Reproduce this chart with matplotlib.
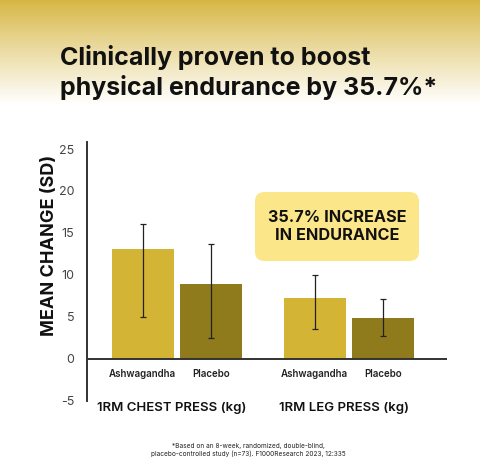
import numpy as np
import matplotlib
matplotlib.use("Agg")
import matplotlib.pyplot as plt
from matplotlib.colors import LinearSegmentedColormap
from matplotlib.patches import FancyBboxPatch

# --- Data ---
groups = ["1RM CHEST PRESS (kg)", "1RM LEG PRESS (kg)"]
series = ["Ashwagandha", "Placebo"]
ashwagandha_mean = [13.1, 7.2]
placebo_mean = [8.9, 4.8]
# error bar ends (low, high)
ashwagandha_low = [5.0, 3.6]
ashwagandha_high = [16.1, 10.0]
placebo_low = [2.5, 2.7]
placebo_high = [13.7, 7.1]
y_ticks = [-5, 0, 5, 10, 15, 20, 25]

# --- Style ---
ASH_COLOR = "#d4b434"
PLA_COLOR = "#8f7a1c"
BOX_COLOR = "#fce68a"
TOP_COLOR = "#d6b53f"
FONT = ["Inter", "DejaVu Sans"]

plt.rcParams["font.family"] = FONT

fig = plt.figure(figsize=(4.80, 4.61), dpi=100)

# background gradient at the top
bg = fig.add_axes([0, 0, 1, 1], zorder=-10)
grad = np.ones((461, 2))
ramp = np.linspace(0, 1, 106)
grad[:106, :] = (ramp ** 0.9)[:, None]
cmap = LinearSegmentedColormap.from_list("bg", [TOP_COLOR, "#ffffff"])
bg.imshow(grad, aspect="auto", cmap=cmap, vmin=0, vmax=1, extent=[0, 1, 0, 1])
bg.axis("off")

# title
fig.text(0.125, 1 - 58 / 461, "Clinically proven to boost", fontsize=18,
         fontweight="bold", va="center", ha="left", color="#111111")
fig.text(0.125, 1 - 88 / 461, "physical endurance by 35.7%*", fontsize=18,
         fontweight="bold", va="center", ha="left", color="#111111")

ax = fig.add_axes([87 / 480, 0.131, (447 - 87) / 480, 0.562])
ax.patch.set_alpha(0)

x = np.arange(len(groups))
w = 0.36
off = 0.2

ash_err = [np.subtract(ashwagandha_mean, ashwagandha_low),
           np.subtract(ashwagandha_high, ashwagandha_mean)]
pla_err = [np.subtract(placebo_mean, placebo_low),
           np.subtract(placebo_high, placebo_mean)]

ax.bar(x - off, ashwagandha_mean, width=w, color=ASH_COLOR, zorder=2)
ax.bar(x + off, placebo_mean, width=w, color=PLA_COLOR, zorder=2)
ax.errorbar(x - off, ashwagandha_mean, yerr=ash_err, fmt="none",
            ecolor="#222222", elinewidth=0.9, capsize=2, capthick=0.9, zorder=3)
ax.errorbar(x + off, placebo_mean, yerr=pla_err, fmt="none",
            ecolor="#222222", elinewidth=0.9, capsize=2, capthick=0.9, zorder=3)

ax.axhline(0, color="#333333", lw=1.4, zorder=4)
ax.set_xlim(-0.523, 1.57)
ax.set_ylim(-4.85, 25.9)
ax.set_yticks(y_ticks)
ax.set_yticklabels([str(t) for t in y_ticks], fontsize=9, color="#444444")
ax.tick_params(axis="y", length=0, pad=9)
ax.set_xticks([])
for s in ["top", "right", "bottom"]:
    ax.spines[s].set_visible(False)
ax.spines["left"].set_color("#333333")
ax.spines["left"].set_linewidth(1.4)

ax.set_ylabel("MEAN CHANGE (SD)", fontsize=13, fontweight="bold",
              color="#111111")
ax.yaxis.set_label_coords(-0.08, 0.60)

# category labels under each bar
for i in range(len(groups)):
    ax.text(x[i] - off, -1.8, series[0], ha="center", va="center",
            fontsize=7, fontweight="semibold", color="#222222")
    ax.text(x[i] + off, -1.8, series[1], ha="center", va="center",
            fontsize=7, fontweight="semibold", color="#222222")
    ax.text(x[i] - 0.03, -5.9, groups[i], ha="center", va="center",
            fontsize=9.5, fontweight="semibold", color="#111111",
            clip_on=False)

# callout box
box = FancyBboxPatch((255 / 480, 1 - 261 / 461), (419 - 255) / 480,
                     (261 - 192) / 461, boxstyle="round,pad=0,rounding_size=0.02",
                     transform=fig.transFigure, facecolor=BOX_COLOR,
                     edgecolor="none", zorder=5)
fig.patches.append(box)
fig.text(337 / 480, 1 - 226 / 461, "35.7% INCREASE\nIN ENDURANCE",
         ha="center", va="center", fontsize=11.7, fontweight="bold",
         color="#111111", linespacing=1.25, zorder=6)

# footnote
fig.text(248 / 480, 1 - 450 / 461,
         "*Based on an 8-week, randomized, double-blind,\n"
         "placebo-controlled study (n=73). F1000Research 2023, 12:335",
         ha="center", va="center", fontsize=4.7, color="#222222",
         linespacing=1.3)

fig.savefig("out.png", dpi=100)
